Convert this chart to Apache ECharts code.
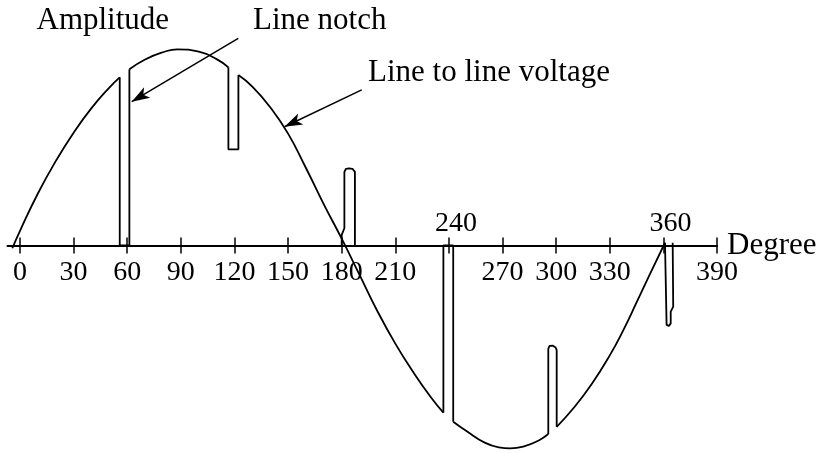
<!DOCTYPE html>
<html>
<head>
<meta charset="utf-8">
<script src="https://cdn.jsdelivr.net/npm/echarts@6/dist/echarts.min.js"></script>
<style>
  html, body { margin: 0; padding: 0; background: #fff; }
  #chart { width: 823px; height: 453px; }
</style>
</head>
<body>
<div id="chart"></div>
<script>
// axis ticks and labels (degrees)
const tickDegrees = [0, 30, 60, 90, 120, 150, 180, 210, 240, 270, 300, 330, 360, 390];
const labelsUnder = [0, 30, 60, 90, 120, 150, 180, 210, 270, 300, 330, 390];
const labelsOver = [240, 360];

// line to line voltage as [degree, amplitude]
const riseArc = [[-4.3, -0.014], [0, 0.075], [10, 0.265], [20, 0.43], [30, 0.575], [40, 0.70], [50, 0.805], [55.8, 0.857]];
const notch60 = [[55.8, 0.857], [55.8, 0], [61.2, 0], [61.2, 0.898]];
const crestArc = [[61.2, 0.898], [70, 0.948], [80, 0.985], [88, 1.0], [100, 0.988], [110, 0.95], [116.6, 0.908]];
const notch120 = [[116.6, 0.908], [116.6, 0.49], [122.2, 0.49], [122.2, 0.869]];
const fallArc = [[122.2, 0.869], [130, 0.81], [140, 0.705], [150, 0.57], [160, 0.395], [170, 0.21], [180, 0.035],
  [190, -0.15], [200, -0.335], [210, -0.50], [220, -0.645], [230, -0.775], [236.9, -0.852]];
const notch185 = [[180, 0], [180, 0.054], [181.5, 0.088], [181.5, 0.375], [182.4, 0.391], [184.1, 0.393],
  [186, 0.391], [187.4, 0.375], [187.4, 0]];
const notch240 = [[236.9, -0.852], [236.9, 0], [242.4, 0], [242.4, -0.898]];
const troughArc = [[242.4, -0.898], [250, -0.947], [260, -1.005], [268, -1.029], [274.2, -1.034], [282, -1.024],
  [290, -0.995], [295.6, -0.961]];
const notch300 = [[295.6, -0.961], [295.6, -0.527], [296.3, -0.512], [298.2, -0.511], [299.7, -0.52],
  [300.3, -0.533], [300.3, -0.924]];
const recoverArc = [[300.3, -0.924], [310, -0.826], [320, -0.705], [330, -0.56], [337.6, -0.431], [345, -0.29],
  [352, -0.155], [360.9, 0.014]];
const notch360 = [[360.9, 0.014], [361.8, -0.405], [363.1, -0.41], [364.1, -0.397], [364.1, -0.337],
  [365.5, -0.312], [365.2, 0.014]];

// annotation arrows [from, to]
const notchPointer = [[122.1, 1.056], [62.5, 0.733]];
const voltagePointer = [[191.2, 0.793], [148, 0.605]];

const serifFont = 'Liberation Serif';
const ink = '#000';

function traceSeries(points, smooth) {
  return {
    type: 'line',
    data: points,
    smooth: smooth,
    showSymbol: false,
    symbol: 'none',
    silent: true,
    lineStyle: { color: ink, width: 1.8 },
    xAxisIndex: 0,
    yAxisIndex: 0
  };
}

const chart = echarts.init(document.getElementById('chart'), null, { renderer: 'canvas' });

const series = [
  traceSeries(riseArc, true),
  traceSeries(notch60, false),
  traceSeries(crestArc, true),
  traceSeries(notch120, false),
  traceSeries(fallArc, true),
  traceSeries(notch185, false),
  traceSeries(notch240, false),
  traceSeries(troughArc, true),
  traceSeries(notch300, false),
  traceSeries(recoverArc, true),
  traceSeries(notch360, false)
];

series[0].markLine = {
  silent: true,
  animation: false,
  symbol: ['none', 'arrow'],
  symbolSize: [9, 18],
  label: { show: false },
  lineStyle: { color: ink, width: 1.5, type: 'solid' },
  data: [
    [{ coord: notchPointer[0] }, { coord: notchPointer[1] }],
    [{ coord: voltagePointer[0] }, { coord: voltagePointer[1] }]
  ]
};

const tickLabelStyle = { fontFamily: serifFont, fontSize: 28, color: ink };
const tickStyle = { color: ink, width: 1.5 };

chart.setOption({
  animation: false,
  backgroundColor: '#fff',
  grid: [
    // plot area, amplitude 0 sits at y = 245.5
    { left: 7.5, right: 106, top: 0.25, bottom: 1.5, containLabel: false, outerBoundsMode: 'none' },
    // degree axis strip, its bottom edge is the zero line
    { left: 7.5, right: 106, top: 145.5, bottom: 207.5, containLabel: false, outerBoundsMode: 'none' }
  ],
  xAxis: [
    { type: 'value', gridIndex: 0, min: -7, max: 390, show: false },
    {
      type: 'value',
      gridIndex: 1,
      min: -7,
      max: 390,
      position: 'bottom',
      name: 'Degree',
      nameLocation: 'end',
      nameGap: 10,
      nameMoveOverlap: false,
      nameTextStyle: { fontFamily: serifFont, fontSize: 31, color: ink, padding: [0, 0, 10, 0] },
      axisLine: { onZero: false, lineStyle: { color: ink, width: 2 } },
      axisTick: { show: true, length: 8, customValues: tickDegrees, lineStyle: tickStyle },
      axisLabel: Object.assign({ customValues: labelsUnder, margin: 13 }, tickLabelStyle),
      splitLine: { show: false }
    },
    {
      type: 'value',
      gridIndex: 1,
      min: -7,
      max: 390,
      position: 'bottom',
      axisLine: { show: false, onZero: false },
      axisTick: { show: true, inside: true, length: 8, customValues: tickDegrees, lineStyle: tickStyle },
      axisLabel: Object.assign({ inside: true, customValues: labelsOver, margin: 8, padding: [0, 0, 0, 14] }, tickLabelStyle),
      splitLine: { show: false }
    }
  ],
  yAxis: [
    { type: 'value', gridIndex: 0, min: -1.05, max: 1.25, show: false },
    { type: 'value', gridIndex: 1, min: 0, max: 1, show: false }
  ],
  graphic: [
    { type: 'text', x: 36.5, y: 21, silent: true,
      style: { text: 'Amplitude', font: '31px "Liberation Serif"', fill: ink, align: 'left', verticalAlign: 'middle', textAlign: 'left', textVerticalAlign: 'middle' } },
    { type: 'text', x: 253, y: 21, silent: true,
      style: { text: 'Line notch', font: '31px "Liberation Serif"', fill: ink, align: 'left', verticalAlign: 'middle', textAlign: 'left', textVerticalAlign: 'middle' } },
    { type: 'text', x: 368, y: 73, silent: true,
      style: { text: 'Line to line voltage', font: '31px "Liberation Serif"', fill: ink, align: 'left', verticalAlign: 'middle', textAlign: 'left', textVerticalAlign: 'middle' } }
  ],
  series: series
});
</script>
</body>
</html>
